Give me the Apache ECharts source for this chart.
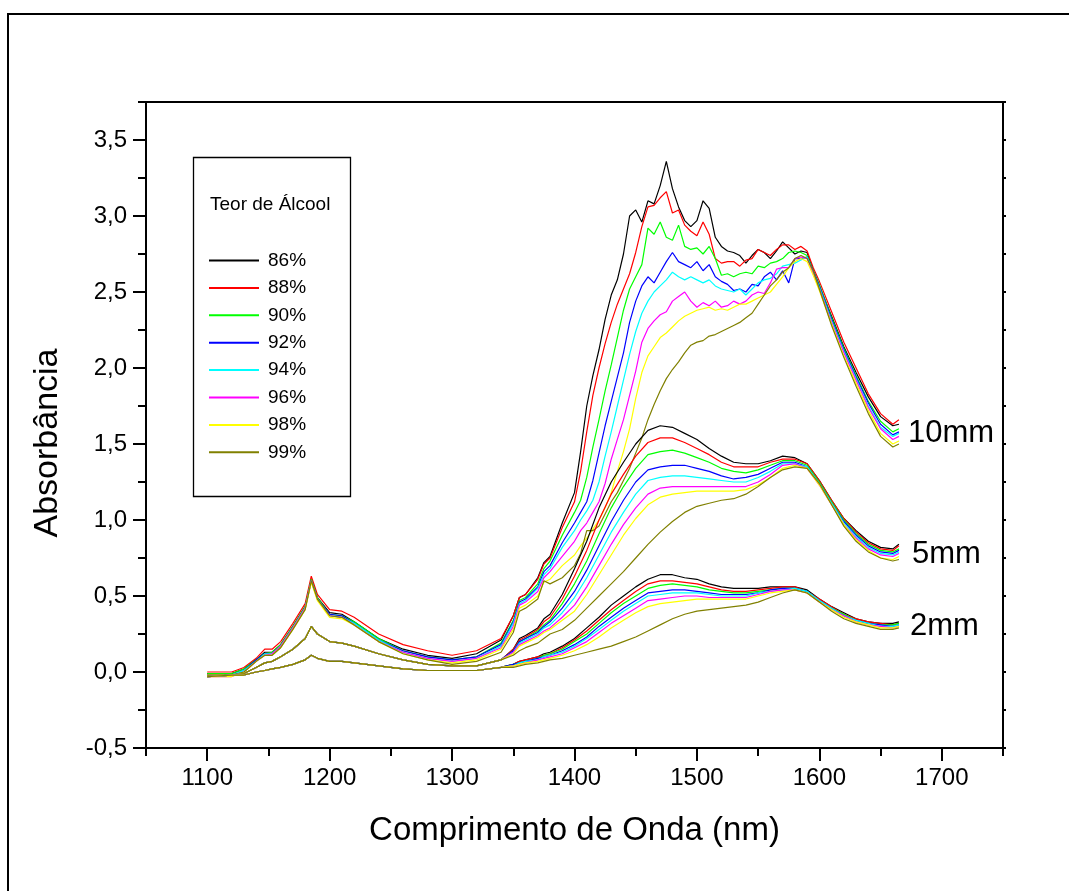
<!DOCTYPE html>
<html><head><meta charset="utf-8">
<script src="https://cdn.jsdelivr.net/npm/echarts@6/dist/echarts.min.js"></script>
<style>html,body{margin:0;padding:0;background:#fff}#c{width:1069px;height:891px}</style>
</head><body><div id="c"></div><script>
// ---------- DATA ----------
const concentrations = ['86%','88%','90%','92%','94%','96%','98%','99%'];
const xTickLabels = [1100,1200,1300,1400,1500,1600,1700];
const xMinorTicks = [1050,1150,1250,1350,1450,1550,1650,1750];
const yTickLabels = [-0.5,0,0.5,1,1.5,2,2.5,3,3.5];
const yMinorTicks = [-0.25,0.25,0.75,1.25,1.75,2.25,2.75,3.25,3.75];

// wavelengths (nm)
const wl10 = [1100,1120,1130,1140,1147,1153,1160,1170,1180,1185,1190,1200,1210,1220,1240,1260,1280,1300,1320,1340,
  1350,1355,1360,1370,1375,1380,1390,1400,
  1405,1410,1415,1420,1425,1430,1435,1440,1445,1450,1455,1460,1465,1470,1475,1480,1485,1490,1495,1500,
  1505,1510,1515,1520,1525,1530,1535,1540,1545,1550,1555,1560,1565,1570,1575,1580,1585,1590,1595,1600,
  1610,1620,1630,1640,1650,1660,1665];
const wlLow = [1100,1120,1130,1140,1147,1153,1160,1170,1180,1185,1190,1200,1210,1220,1240,1260,1280,1300,1320,1340];
const wlHigh = [1350,1355,1360,1370,1375,1380,1390,1400,1410,1420,1430,1440,1450,1460,1470,1480,1490,1500,
  1510,1520,1530,1540,1550,1560,1570,1580,1590,1600,1610,1620,1630,1640,1650,1660,1665];

// 10 mm absorbance
const abs10_86 = [-0.01,-0.01,0.02,0.08,0.13,0.13,0.18,0.30,0.43,0.61,0.49,0.39,0.38,0.33,0.22,0.15,0.11,0.09,0.12,0.21,
  0.37,0.49,0.51,0.62,0.72,0.76,0.98,1.18,
  1.45,1.75,1.95,2.12,2.32,2.48,2.58,2.75,3.00,3.04,2.96,3.10,3.08,3.20,3.36,3.18,3.06,2.97,2.93,2.97,
  3.10,3.05,2.86,2.80,2.77,2.76,2.74,2.69,2.74,2.78,2.76,2.72,2.77,2.83,2.79,2.75,2.77,2.76,2.64,2.54,
  2.34,2.14,1.97,1.81,1.68,1.62,1.63];
const abs10_88 = [0.00,0.00,0.03,0.09,0.15,0.15,0.20,0.32,0.45,0.63,0.51,0.41,0.40,0.36,0.25,0.18,0.14,0.11,0.14,0.22,
  0.37,0.49,0.51,0.61,0.71,0.75,0.95,1.12,
  1.32,1.58,1.82,2.00,2.16,2.30,2.42,2.52,2.62,2.76,2.93,3.06,3.07,3.12,3.16,3.02,3.04,2.94,2.90,2.87,
  2.96,2.88,2.72,2.69,2.70,2.70,2.67,2.71,2.72,2.78,2.76,2.74,2.78,2.81,2.81,2.78,2.80,2.77,2.66,2.57,
  2.37,2.17,2.00,1.83,1.70,1.63,1.66];
const abs10_90 = [-0.01,-0.01,0.02,0.08,0.12,0.13,0.18,0.30,0.43,0.61,0.49,0.38,0.37,0.33,0.22,0.14,0.10,0.08,0.10,0.19,
  0.34,0.47,0.49,0.58,0.68,0.73,0.90,1.05,
  1.13,1.28,1.48,1.66,1.85,2.02,2.20,2.38,2.52,2.60,2.68,2.92,2.88,2.96,2.86,2.84,2.94,2.80,2.78,2.79,
  2.75,2.80,2.72,2.61,2.62,2.60,2.62,2.63,2.62,2.67,2.66,2.69,2.70,2.72,2.76,2.77,2.76,2.74,2.64,2.55,
  2.33,2.13,1.95,1.78,1.65,1.58,1.60];
const abs10_92 = [-0.02,-0.02,0.01,0.08,0.12,0.12,0.17,0.29,0.42,0.60,0.48,0.38,0.37,0.32,0.21,0.14,0.10,0.08,0.10,0.18,
  0.33,0.46,0.48,0.56,0.66,0.70,0.85,0.98,
  1.05,1.12,1.26,1.44,1.62,1.78,1.94,2.10,2.30,2.44,2.54,2.60,2.56,2.63,2.70,2.76,2.70,2.68,2.66,2.70,
  2.64,2.68,2.60,2.57,2.55,2.51,2.52,2.50,2.55,2.54,2.60,2.63,2.58,2.64,2.56,2.72,2.72,2.73,2.64,2.54,
  2.32,2.12,1.94,1.77,1.63,1.56,1.58];
const abs10_94 = [-0.02,-0.02,0.01,0.07,0.12,0.12,0.17,0.29,0.42,0.60,0.48,0.37,0.36,0.32,0.21,0.13,0.09,0.07,0.09,0.17,
  0.32,0.45,0.47,0.55,0.64,0.68,0.82,0.93,
  1.00,1.06,1.13,1.25,1.42,1.58,1.75,1.92,2.09,2.24,2.36,2.44,2.50,2.54,2.58,2.63,2.60,2.58,2.60,2.58,
  2.56,2.58,2.54,2.52,2.51,2.50,2.52,2.48,2.52,2.56,2.58,2.59,2.62,2.67,2.68,2.69,2.71,2.73,2.63,2.53,
  2.31,2.11,1.93,1.75,1.61,1.55,1.57];
const abs10_96 = [-0.03,-0.03,0.00,0.07,0.11,0.12,0.17,0.29,0.42,0.60,0.48,0.37,0.36,0.31,0.20,0.13,0.09,0.07,0.09,0.16,
  0.30,0.44,0.46,0.53,0.62,0.66,0.76,0.86,
  0.93,0.98,1.05,1.12,1.24,1.40,1.53,1.66,1.82,1.98,2.17,2.26,2.31,2.35,2.37,2.44,2.47,2.50,2.44,2.40,
  2.43,2.41,2.44,2.40,2.41,2.44,2.42,2.44,2.48,2.50,2.49,2.56,2.65,2.66,2.66,2.72,2.73,2.72,2.62,2.52,
  2.30,2.10,1.92,1.74,1.60,1.53,1.55];
const abs10_98 = [-0.03,-0.03,0.00,0.07,0.11,0.11,0.16,0.28,0.41,0.59,0.47,0.36,0.35,0.31,0.20,0.12,0.08,0.06,0.08,0.15,
  0.28,0.42,0.44,0.50,0.59,0.61,0.70,0.77,
  0.83,0.88,0.94,1.00,1.08,1.18,1.32,1.45,1.60,1.80,1.97,2.08,2.14,2.20,2.23,2.27,2.31,2.34,2.36,2.38,
  2.39,2.40,2.38,2.39,2.38,2.40,2.42,2.42,2.44,2.46,2.48,2.50,2.55,2.60,2.66,2.70,2.72,2.70,2.61,2.51,
  2.29,2.08,1.90,1.72,1.57,1.50,1.52];
const abs10_99 = [-0.02,-0.02,0.00,0.07,0.11,0.11,0.16,0.28,0.41,0.60,0.48,0.37,0.36,0.31,0.20,0.12,0.08,0.05,0.07,0.13,
  0.26,0.40,0.42,0.48,0.60,0.58,0.62,0.70,
  0.78,0.93,0.93,0.96,1.04,1.12,1.18,1.26,1.34,1.44,1.54,1.66,1.76,1.85,1.93,1.99,2.04,2.10,2.15,2.17,
  2.18,2.21,2.22,2.24,2.26,2.28,2.30,2.33,2.36,2.42,2.48,2.54,2.58,2.63,2.66,2.72,2.74,2.72,2.64,2.52,
  2.28,2.07,1.88,1.70,1.55,1.48,1.50];

// 5 mm absorbance (1100-1340 shared, curves coincide there)
const abs5Low = [-0.02,-0.02,-0.01,0.03,0.06,0.07,0.10,0.15,0.22,0.30,0.25,0.20,0.19,0.17,0.12,0.08,0.05,0.04,0.04,0.08];
const abs5_86 = [0.15,0.22,0.24,0.29,0.35,0.38,0.51,0.68,0.86,1.08,1.25,1.38,1.50,1.59,1.62,1.61,1.57,1.53,1.47,1.42,1.38,1.37,1.37,1.39,1.42,1.41,1.37,1.26,1.13,1.01,0.93,0.86,0.82,0.81,0.84];
const abs5_88 = [0.15,0.21,0.23,0.28,0.33,0.36,0.48,0.63,0.80,1.00,1.17,1.30,1.42,1.51,1.54,1.54,1.51,1.47,1.43,1.38,1.35,1.35,1.35,1.38,1.40,1.40,1.37,1.26,1.13,1.01,0.92,0.85,0.81,0.80,0.83];
const abs5_90 = [0.14,0.20,0.22,0.27,0.31,0.34,0.45,0.58,0.73,0.91,1.08,1.22,1.34,1.43,1.45,1.46,1.44,1.41,1.38,1.34,1.32,1.31,1.33,1.36,1.39,1.39,1.36,1.25,1.12,1.00,0.91,0.84,0.80,0.79,0.81];
const abs5_92 = [0.14,0.20,0.22,0.26,0.30,0.33,0.42,0.53,0.67,0.83,0.99,1.13,1.25,1.33,1.35,1.36,1.36,1.34,1.32,1.29,1.27,1.28,1.30,1.34,1.38,1.38,1.35,1.24,1.11,0.99,0.90,0.83,0.79,0.78,0.80];
const abs5_94 = [0.13,0.19,0.21,0.25,0.29,0.31,0.39,0.49,0.62,0.77,0.92,1.05,1.17,1.26,1.28,1.29,1.29,1.28,1.27,1.26,1.25,1.25,1.28,1.32,1.37,1.37,1.35,1.24,1.11,0.98,0.89,0.82,0.78,0.77,0.79];
const abs5_96 = [0.13,0.18,0.20,0.24,0.27,0.29,0.36,0.44,0.56,0.70,0.84,0.97,1.08,1.17,1.21,1.22,1.22,1.22,1.22,1.22,1.22,1.22,1.25,1.30,1.36,1.37,1.34,1.23,1.10,0.97,0.88,0.81,0.77,0.76,0.78];
const abs5_98 = [0.12,0.17,0.19,0.23,0.26,0.28,0.34,0.40,0.51,0.64,0.77,0.90,1.01,1.10,1.15,1.17,1.18,1.19,1.19,1.19,1.19,1.20,1.23,1.28,1.34,1.36,1.34,1.23,1.10,0.97,0.87,0.80,0.75,0.74,0.76];
const abs5_99 = [0.11,0.14,0.16,0.19,0.22,0.25,0.28,0.34,0.42,0.50,0.58,0.66,0.75,0.84,0.92,0.99,1.05,1.09,1.11,1.13,1.14,1.17,1.22,1.28,1.33,1.35,1.34,1.24,1.10,0.96,0.86,0.79,0.75,0.73,0.74];

// 2 mm absorbance
const abs2Low = [-0.03,-0.02,-0.02,0.00,0.01,0.02,0.03,0.05,0.08,0.11,0.09,0.07,0.07,0.06,0.04,0.02,0.01,0.01,0.01,0.03];
const abs2_86 = [0.05,0.07,0.08,0.10,0.12,0.13,0.17,0.22,0.29,0.36,0.44,0.50,0.56,0.61,0.64,0.64,0.62,0.61,0.58,0.56,0.55,0.55,0.55,0.56,0.56,0.56,0.54,0.48,0.43,0.39,0.35,0.33,0.32,0.32,0.33];
const abs2_88 = [0.05,0.07,0.08,0.10,0.11,0.12,0.16,0.21,0.27,0.34,0.41,0.47,0.53,0.58,0.60,0.60,0.59,0.58,0.56,0.54,0.53,0.53,0.54,0.55,0.56,0.56,0.53,0.48,0.43,0.38,0.35,0.33,0.32,0.31,0.32];
const abs2_90 = [0.05,0.06,0.07,0.09,0.11,0.12,0.15,0.20,0.25,0.32,0.39,0.45,0.50,0.55,0.57,0.58,0.57,0.56,0.54,0.53,0.52,0.52,0.53,0.54,0.55,0.55,0.53,0.47,0.42,0.38,0.34,0.32,0.31,0.31,0.32];
const abs2_92 = [0.05,0.06,0.07,0.09,0.10,0.11,0.14,0.18,0.23,0.30,0.36,0.42,0.47,0.52,0.53,0.54,0.54,0.53,0.52,0.51,0.51,0.51,0.52,0.54,0.55,0.55,0.53,0.47,0.42,0.37,0.34,0.32,0.31,0.30,0.31];
const abs2_94 = [0.04,0.06,0.07,0.08,0.10,0.11,0.13,0.17,0.22,0.28,0.34,0.40,0.45,0.50,0.51,0.52,0.52,0.52,0.51,0.50,0.50,0.50,0.52,0.53,0.54,0.55,0.53,0.47,0.42,0.37,0.34,0.32,0.30,0.30,0.31];
const abs2_96 = [0.04,0.05,0.06,0.08,0.09,0.10,0.12,0.16,0.20,0.26,0.32,0.37,0.42,0.47,0.48,0.49,0.50,0.50,0.49,0.49,0.49,0.49,0.51,0.53,0.54,0.54,0.52,0.46,0.41,0.37,0.33,0.31,0.30,0.29,0.30];
const abs2_98 = [0.04,0.05,0.06,0.07,0.08,0.09,0.11,0.14,0.18,0.23,0.29,0.34,0.39,0.43,0.45,0.46,0.47,0.48,0.48,0.48,0.48,0.48,0.50,0.52,0.53,0.54,0.52,0.46,0.41,0.36,0.33,0.31,0.29,0.29,0.30];
const abs2_99 = [0.03,0.04,0.05,0.06,0.07,0.08,0.09,0.11,0.13,0.15,0.17,0.20,0.23,0.27,0.31,0.35,0.38,0.40,0.41,0.42,0.43,0.44,0.46,0.49,0.52,0.54,0.52,0.46,0.40,0.35,0.32,0.30,0.28,0.28,0.29];

// ---------- CHART ----------
const colors = ['#000000','#ff0000','#00ff00','#0000ff','#00ffff','#ff00ff','#ffff00','#808000'];
const set10 = [abs10_86,abs10_88,abs10_90,abs10_92,abs10_94,abs10_96,abs10_98,abs10_99];
const set5 = [abs5_86,abs5_88,abs5_90,abs5_92,abs5_94,abs5_96,abs5_98,abs5_99];
const set2 = [abs2_86,abs2_88,abs2_90,abs2_92,abs2_94,abs2_96,abs2_98,abs2_99];
const wlShort = wlLow.concat(wlHigh);
const zip = (xs, ys) => xs.map((x, k) => [x, ys[k]]);
const FONT = '"Liberation Sans", Arial, sans-serif';
const comma = v => v.toFixed(1).replace('.', ',');

const series = [];
const groups = [
  {xs: wl10, sets: set10, low: null},
  {xs: wlShort, sets: set5, low: abs5Low},
  {xs: wlShort, sets: set2, low: abs2Low}
];
groups.forEach(g => {
  concentrations.forEach((name, i) => {
    const ys = g.low ? g.low.concat(g.sets[i]) : g.sets[i];
    series.push({
      name: name, type: 'line', xAxisIndex: 0, yAxisIndex: 0,
      data: zip(g.xs, ys), showSymbol: false, symbol: 'none',
      lineStyle: {color: colors[i], width: 1.2}, itemStyle: {color: colors[i]},
      silent: true, animation: false
    });
  });
});

const chart = echarts.init(document.getElementById('c'), null, {renderer: 'canvas'});
const axisLineStyle = {color: '#000', width: 2};
chart.setOption({
  backgroundColor: '#fff',
  animation: false,
  grid: {left: 146, top: 102, width: 857, height: 646, containLabel: false},
  xAxis: [
    {type: 'value', min: 1050, max: 1750, position: 'bottom',
     axisLine: {show: true, onZero: false, lineStyle: axisLineStyle},
     axisTick: {show: true, inside: false, length: 13, customValues: xTickLabels, lineStyle: {width: 2, color: '#000'}},
     axisLabel: {show: true, customValues: xTickLabels, formatter: v => String(v), fontSize: 24, color: '#000', fontFamily: FONT, margin: 18},
     splitLine: {show: false},
     name: 'Comprimento de Onda (nm)', nameLocation: 'middle', nameGap: 66,
     nameTextStyle: {fontSize: 33, color: '#000', fontFamily: FONT}},
    {type: 'value', min: 1050, max: 1750, position: 'bottom',
     axisLine: {show: false, onZero: false},
     axisTick: {show: true, inside: false, length: 8, customValues: xMinorTicks, lineStyle: {width: 2, color: '#000'}},
     axisLabel: {show: false}, splitLine: {show: false}},
    {type: 'value', min: 1050, max: 1750, position: 'top',
     axisLine: {show: true, onZero: false, lineStyle: axisLineStyle},
     axisTick: {show: false}, axisLabel: {show: false}, splitLine: {show: false}}
  ],
  yAxis: [
    {type: 'value', min: -0.5, max: 3.75, position: 'left',
     axisLine: {show: true, onZero: false, lineStyle: axisLineStyle},
     axisTick: {show: true, inside: false, length: 13, customValues: yTickLabels, lineStyle: {width: 2, color: '#000'}},
     axisLabel: {show: true, customValues: yTickLabels, formatter: comma, fontSize: 24, color: '#000', fontFamily: FONT, margin: 19},
     splitLine: {show: false}},
    {type: 'value', min: -0.5, max: 3.75, position: 'left',
     axisLine: {show: false, onZero: false},
     axisTick: {show: true, inside: false, length: 8, customValues: yMinorTicks, lineStyle: {width: 2, color: '#000'}},
     axisLabel: {show: false}, splitLine: {show: false}},
    {type: 'value', min: -0.5, max: 3.75, position: 'right',
     axisLine: {show: true, onZero: false, lineStyle: axisLineStyle},
     axisTick: {show: true, inside: false, length: 3, customValues: yTickLabels.concat(yMinorTicks), lineStyle: {width: 2, color: '#000'}},
     axisLabel: {show: false}, splitLine: {show: false}}
  ],
  legend: {
    data: concentrations, orient: 'vertical', left: 209, top: 251, padding: 0,
    itemWidth: 50, itemHeight: 2, itemGap: 8.4, icon: 'rect', selectedMode: false,
    textStyle: {fontSize: 19, color: '#000', fontFamily: FONT, lineHeight: 19, padding: [0, 0, 0, 4]}
  },
  graphic: [
    {type: 'rect', shape: {x: 8, y: 14, width: 1200, height: 1000}, style: {fill: null, stroke: '#000', lineWidth: 2}, silent: true},
    {type: 'rect', shape: {x: 193.5, y: 157.5, width: 157, height: 339}, style: {fill: null, stroke: '#000', lineWidth: 1.3}, silent: true},
    {type: 'text', x: 210, y: 205, style: {text: 'Teor de Álcool', font: '19px ' + FONT, fill: '#000', verticalAlign: 'middle'}, silent: true},
    {type: 'text', x: 48, y: 443, rotation: Math.PI / 2, style: {text: 'Absorbância', font: '34px ' + FONT, fill: '#000', align: 'center', verticalAlign: 'middle'}, silent: true},
    {type: 'text', x: 908, y: 433, style: {text: '10mm', font: '31px ' + FONT, fill: '#000', verticalAlign: 'middle'}, silent: true},
    {type: 'text', x: 912, y: 554, style: {text: '5mm', font: '31px ' + FONT, fill: '#000', verticalAlign: 'middle'}, silent: true},
    {type: 'text', x: 910, y: 626, style: {text: '2mm', font: '31px ' + FONT, fill: '#000', verticalAlign: 'middle'}, silent: true}
  ],
  series: series
});
</script></body></html>
